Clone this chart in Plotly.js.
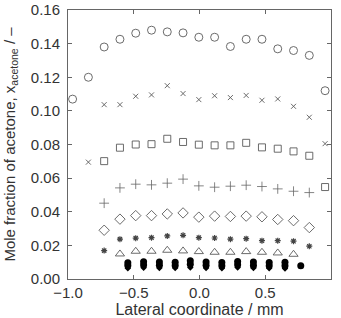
<!DOCTYPE html>
<html>
<head>
<meta charset="utf-8">
<script src="https://cdn.plot.ly/plotly-3.0.1.min.js"></script>
<style>html,body{margin:0;padding:0;background:#fff;}#chart{width:341px;height:318px;}</style>
</head>
<body>
<div id="chart"></div>
<script>
// Lateral coordinate (mm) for each series
var xCircle   = [-0.965, -0.845, -0.725, -0.605, -0.485, -0.365, -0.245, -0.125, -0.005, 0.115, 0.235, 0.355, 0.475, 0.595, 0.715, 0.835, 0.955];
var yCircle   = [0.107, 0.120, 0.138, 0.1426, 0.1462, 0.148, 0.147, 0.1464, 0.1438, 0.1438, 0.1383, 0.1426, 0.1426, 0.1369, 0.1359, 0.133, 0.112];

var xCross    = [-0.845, -0.725, -0.605, -0.485, -0.365, -0.245, -0.125, -0.005, 0.115, 0.235, 0.355, 0.475, 0.595, 0.715, 0.835, 0.955];
var yCross    = [0.0695, 0.1037, 0.1037, 0.1087, 0.1095, 0.115, 0.1103, 0.1067, 0.109, 0.1079, 0.1092, 0.1063, 0.1071, 0.1027, 0.0962, 0.0805];

var xSquare   = [-0.725, -0.605, -0.485, -0.365, -0.245, -0.125, -0.005, 0.115, 0.235, 0.355, 0.475, 0.595, 0.715, 0.835, 0.955];
var ySquare   = [0.0701, 0.0781, 0.080, 0.0802, 0.0834, 0.0815, 0.0799, 0.0795, 0.0795, 0.081, 0.0783, 0.0775, 0.0759, 0.0733, 0.0547];

var xPlus     = [-0.725, -0.605, -0.485, -0.365, -0.245, -0.125, -0.005, 0.115, 0.235, 0.355, 0.475, 0.595, 0.715, 0.835];
var yPlus     = [0.0451, 0.0542, 0.0564, 0.056, 0.057, 0.0594, 0.0554, 0.0546, 0.0552, 0.0558, 0.055, 0.0536, 0.0522, 0.0514];

var xDiamond  = [-0.725, -0.605, -0.485, -0.365, -0.245, -0.125, -0.005, 0.115, 0.235, 0.355, 0.475, 0.595, 0.715, 0.835];
var yDiamond  = [0.029, 0.0356, 0.0377, 0.0377, 0.0387, 0.0393, 0.0368, 0.0374, 0.0372, 0.0374, 0.037, 0.0354, 0.0347, 0.0306];

var xAsterisk = [-0.725, -0.605, -0.485, -0.365, -0.245, -0.125, -0.005, 0.115, 0.235, 0.355, 0.475, 0.595, 0.715, 0.835];
var yAsterisk = [0.0169, 0.0237, 0.0243, 0.0246, 0.0256, 0.026, 0.0246, 0.0244, 0.0237, 0.024, 0.0228, 0.0228, 0.0225, 0.0195];

var xTriangle = [-0.605, -0.485, -0.365, -0.245, -0.125, -0.005, 0.115, 0.235, 0.355, 0.475, 0.595, 0.715];
var yTriangle = [0.0149, 0.0165, 0.0165, 0.0171, 0.0167, 0.0163, 0.0159, 0.0159, 0.0163, 0.0159, 0.0155, 0.0147];

var xFilled   = [-0.545, -0.425, -0.305, -0.185, -0.07, 0.05, 0.17, 0.29, 0.41, 0.53, 0.65, 0.77];
var yFilledTop = [0.0097, 0.0103, 0.0101, 0.0099, 0.0108, 0.0101, 0.0098, 0.0104, 0.0101, 0.0098, 0.0099, 0.0079];
var xFilledLow = [-0.545, -0.425, -0.305, -0.185, -0.07, 0.05, 0.17, 0.29, 0.41, 0.53, 0.65];
var yFilledMid = [0.0080, 0.0084, 0.0082, 0.0081, 0.0087, 0.0082, 0.0079, 0.0085, 0.0081, 0.0079, 0.0079];
var yFilledLow = [0.0064, 0.0067, 0.0065, 0.0066, 0.0068, 0.0065, 0.0064, 0.0068, 0.0066, 0.0064, 0.0062];

var xTicks = [-1.0, -0.5, 0.0, 0.5, 1.0];
var xTickText = ['\u22121.0', '\u22120.5', '0.0', '0.5', '1.0'];
var yTicks = [0, 0.02, 0.04, 0.06, 0.08, 0.10, 0.12, 0.14, 0.16];
var yTickText = ['0.00', '0.02', '0.04', '0.06', '0.08', '0.10', '0.12', '0.14', '0.16'];

var grey = '#5a5a5a';
function open(x, y, sym, size, lw, col) {
  return {x: x, y: y, type: 'scatter', mode: 'markers', showlegend: false,
    marker: {symbol: sym, size: size, color: col || grey, line: {color: col || grey, width: lw}}};
}
function filled(x, y, sym, size) {
  return {x: x, y: y, type: 'scatter', mode: 'markers', showlegend: false,
    marker: {symbol: sym, size: size, color: '#000', line: {color: '#000', width: 0}}};
}

var data = [
  open(xCircle, yCircle, 'circle-open', 8, 0.9),
  open(xCross, yCross, 'x-thin-open', 5, 0.9),
  open(xSquare, ySquare, 'square-open', 7, 0.9),
  open(xPlus, yPlus, 'cross-thin-open', 7, 0.8, '#666'),
  open(xDiamond, yDiamond, 'diamond-open', 8, 0.9),
  open(xAsterisk, yAsterisk, 'asterisk-open', 5, 1.2, '#444'),
  open(xTriangle, yTriangle, 'triangle-up-open', 8, 0.9),
  filled(xFilledLow, yFilledLow, 'diamond', 5),
  filled(xFilledLow, yFilledMid, 'circle', 7),
  filled(xFilled, yFilledTop, 'circle', 7)
];

var axisCommon = {
  showgrid: false, zeroline: false, showline: true, linecolor: '#666', linewidth: 1,
  mirror: 'ticks', ticks: 'inside', ticklen: 4, tickcolor: '#666',
  tickfont: {family: 'Liberation Sans, Arial, sans-serif', size: 15, color: '#333'}
};

var layout = {
  width: 341, height: 318,
  margin: {l: 68, r: 10, t: 10, b: 39},
  paper_bgcolor: '#fff', plot_bgcolor: '#fff',
  font: {family: 'Liberation Sans, Arial, sans-serif', color: '#333'},
  xaxis: Object.assign({}, axisCommon, {
    range: [-1, 1], tickmode: 'array', tickvals: xTicks, ticktext: xTickText,
    ticklabelstandoff: 0, automargin: false,
    title: {text: 'Lateral coordinate / mm', font: {size: 16, color: '#333'}, standoff: 0}
  }),
  yaxis: Object.assign({}, axisCommon, {
    range: [0, 0.16], tickmode: 'array', tickvals: yTicks, ticktext: yTickText,
    ticklabelstandoff: 4, automargin: false,
    title: {text: 'Mole fraction of acetone, x<sub>acetone</sub> / \u2013', font: {size: 15, color: '#333'}, standoff: 11}
  })
};

Plotly.newPlot('chart', data, layout, {staticPlot: true, displayModeBar: false});
</script>
</body>
</html>
